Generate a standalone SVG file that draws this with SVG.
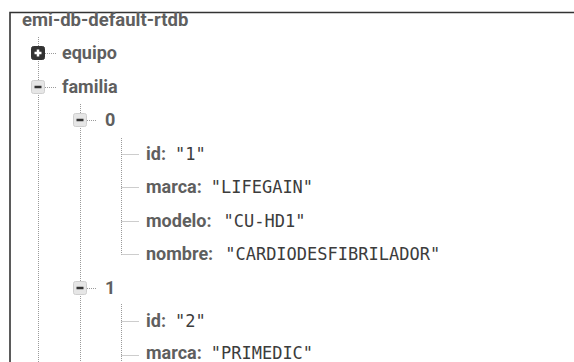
<svg xmlns="http://www.w3.org/2000/svg" width="574" height="362" viewBox="0 0 574 362">
<style>
.k{font-family:Roboto,"Liberation Sans",sans-serif;font-weight:bold;font-size:18px;fill:#5f5f5f}
.t{font-size:18.5px}
.v{font-family:"DejaVu Sans Mono","Liberation Mono",monospace;font-weight:normal;font-size:17px;fill:#3c3c3c}
.dot{stroke:#9a9a9a;stroke-width:1;stroke-dasharray:1 1;fill:none}
.plus{fill:#333;stroke:#333;stroke-width:1}
.minus{fill:#e6e6e6;stroke:#cfcfcf;stroke-width:1}
.bar{stroke:#333;stroke-width:2.5}
.wbar{stroke:#fff;stroke-width:2.5}
</style>
<rect width="574" height="362" fill="#fff"/>
<path d="M10 362 V12.5 H574" fill="none" stroke="#333" stroke-width="1.6"/>
<g id="connectors">
<path class="dot" d="M38.5 37 V362"/>
<path class="dot" d="M45 53.5 H57 M45 87.5 H57"/>
<path class="dot" d="M80.5 104 V362"/>
<path class="dot" d="M87 120.5 H97 M87 288.5 H97"/>
<path class="dot" d="M121.5 138 V254.5 M121.5 154.5 H139 M121.5 187.5 H139 M121.5 221.5 H139 M121.5 254.5 H139"/>
<path class="dot" d="M121.5 304 V362 M121.5 321.5 H139 M121.5 355.5 H139"/>
</g>
<g id="root"><text class="k t" x="22" y="25.5">emi-db-default-rtdb</text></g>
<g id="equipo">
<rect class="plus" x="31.5" y="46.5" width="13" height="13" rx="2"/>
<path class="wbar" d="M34.5 53 H41.5 M38 49.5 V56.5"/>
<text class="k" x="62" y="59">equipo</text>
</g>
<g id="familia">
<rect class="minus" x="31.5" y="80.5" width="13" height="13" rx="2"/>
<path class="bar" d="M34.5 87 H41.5"/>
<text class="k" x="62" y="93">familia</text>
</g>
<g id="n0">
<rect class="minus" x="73.5" y="113.5" width="13" height="13" rx="2"/>
<path class="bar" d="M76.5 120 H83.5"/>
<text class="k" x="105" y="126">0</text>
</g>
<g id="n0-id"><text x="146" y="160"><tspan class="k">id:</tspan><tspan class="v" dx="9">"1"</tspan></text></g>
<g id="n0-marca"><text x="146" y="193"><tspan class="k">marca:</tspan><tspan class="v" dx="9">"LIFEGAIN"</tspan></text></g>
<g id="n0-modelo"><text x="146" y="226.5"><tspan class="k">modelo:</tspan><tspan class="v" dx="12">"CU-HD1"</tspan></text></g>
<g id="n0-nombre"><text x="146" y="260"><tspan class="k">nombre:</tspan><tspan class="v" dx="12">"CARDIODESFIBRILADOR"</tspan></text></g>
<g id="n1">
<rect class="minus" x="73.5" y="281.5" width="13" height="13" rx="2"/>
<path class="bar" d="M76.5 288 H83.5"/>
<text class="k" x="105" y="294">1</text>
</g>
<g id="n1-id"><text x="146" y="326.5"><tspan class="k">id:</tspan><tspan class="v" dx="9">"2"</tspan></text></g>
<g id="n1-marca"><text x="146" y="359"><tspan class="k">marca:</tspan><tspan class="v" dx="9">"PRIMEDIC"</tspan></text></g>
</svg>
